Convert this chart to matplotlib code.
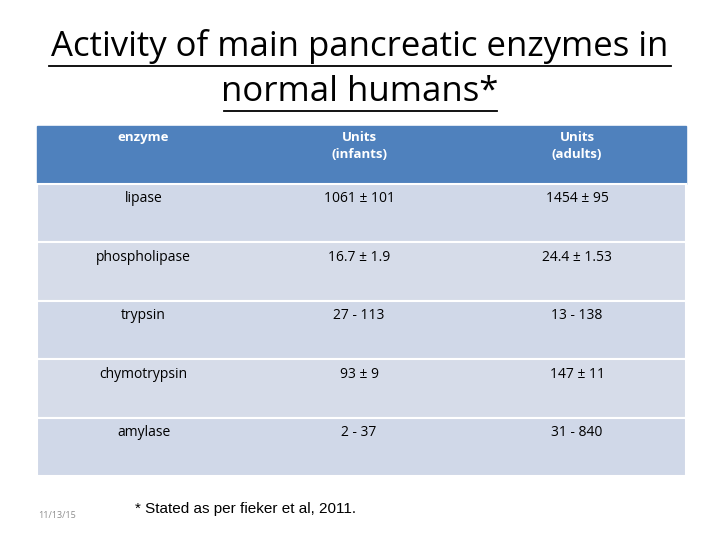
import matplotlib
matplotlib.use("Agg")
import matplotlib.pyplot as plt
from matplotlib.patches import Rectangle

headers = ["enzyme", "Units\n(infants)", "Units\n(adults)"]
enzymes = ["lipase", "phospholipase", "trypsin", "chymotrypsin", "amylase"]
infants = ["1061 ± 101", "16.7 ± 1.9", "27 - 113", "93 ± 9", "2 - 37"]
adults = ["1454 ± 95", "24.4 ± 1.53", "13 - 138", "147 ± 11", "31 - 840"]

fig = plt.figure(figsize=(7.2, 5.39), dpi=100)
ax = fig.add_axes([0, 0, 1, 1])
ax.set_xlim(0, 720); ax.set_ylim(539, 0); ax.axis("off")

ff = ["Open Sans", "DejaVu Sans"]
ax.text(360, 46, "Activity of main pancreatic enzymes in", ha="center", va="center", fontsize=25, family=ff)
ax.text(360, 92, "normal humans*", ha="center", va="center", fontsize=25, family=ff)
ax.plot([49, 671], [66, 66], color="black", lw=1.3)
ax.plot([224, 497], [111, 111], color="black", lw=1.3)

x0, x1 = 37, 686
cols = [37, 250, 468, 686]
centers = [(cols[i] + cols[i+1]) / 2 for i in range(3)]
hy0, hy1 = 126, 184
ax.add_patch(Rectangle((x0, hy0), x1 - x0, hy1 - hy0, color="#4F81BD"))
for c, h in zip(centers, headers):
    ax.text(c, 131, h, ha="center", va="top", color="white", fontsize=9.5, fontweight="bold", family=ff, linespacing=1.4)

rh = 58.4
for i, (e, a, b) in enumerate(zip(enzymes, infants, adults)):
    y = hy1 + i * rh
    ax.add_patch(Rectangle((x0, y), x1 - x0, rh, facecolor="#D0D8E8" if i % 2 == 0 else "#D6DCE9", edgecolor="white", lw=1.5))
    for c, t in zip(centers, (e, a, b)):
        ax.text(c, y + 15, t, ha="center", va="center", fontsize=10, family=ff)

ax.text(135, 509, "* Stated as per fieker et al, 2011.", ha="left", va="center", fontsize=11, family=["Liberation Sans", "DejaVu Sans"])
ax.text(38, 516, "11/13/15", ha="left", va="center", fontsize=6.5, color="#8C8C8C", family=ff)

fig.savefig("out.png", dpi=100)
